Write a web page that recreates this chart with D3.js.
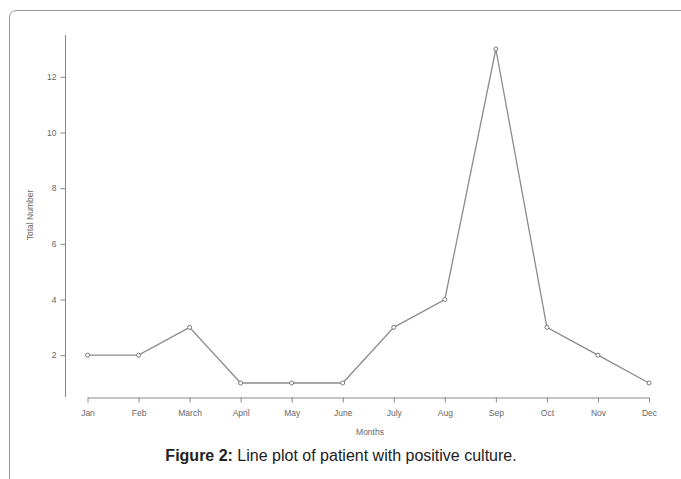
<!DOCTYPE html>
<html><head><meta charset="utf-8">
<script src="https://cdn.jsdelivr.net/npm/d3@7"></script>
<style>body{margin:0;background:#fff;}svg{display:block;}</style>
</head><body>
<svg id="c" width="681" height="479"></svg>
<script>
const months = ["Jan","Feb","March","April","May","June","July","Aug","Sep","Oct","Nov","Dec"];
const totals = [2,2,3,1,1,1,3,4,13,3,2,1];
const yTicks = [2,4,6,8,10,12];

const svg = d3.select("#c");
// card border
svg.append("path")
  .attr("d","M9.5,479 L9.5,18 Q9.5,10.5 17,10.5 L681,10.5")
  .attr("fill","none").attr("stroke","#999").attr("stroke-width",1);

const x = d3.scalePoint().domain(months).range([87.5,649]);
const y = d3.scaleLinear().domain([1,13]).range([383,49]);

const g = svg.append("g").attr("font-family","Liberation Sans, Arial, sans-serif");

// y axis
const ya = g.append("g").attr("transform","translate(65.5,0)")
  .call(d3.axisLeft(y).tickValues(yTicks).tickSize(5).tickSizeOuter(0).tickPadding(4).tickFormat(d3.format("d")));
ya.select(".domain").attr("d","M0,35V397");
ya.selectAll("line,.domain").attr("stroke","#888");
ya.selectAll("text").attr("fill","#666").attr("font-size",8.5);

// x axis
const xa = g.append("g").attr("transform","translate(0,397.5)")
  .call(d3.axisBottom(x).tickSize(5).tickSizeOuter(0).tickPadding(7));
xa.selectAll("line,.domain").attr("stroke","#888");
xa.selectAll("text").attr("fill","#666").attr("font-size",8.5);

// axis titles
g.append("text").attr("x",370).attr("y",435).attr("text-anchor","middle")
  .attr("font-size",8.5).attr("fill","#666").text("Months");
g.append("text").attr("transform","translate(33,215) rotate(-90)").attr("text-anchor","middle")
  .attr("font-size",8.5).attr("fill","#666").text("Total Number");

// line
const line = d3.line().x((d,i)=>x(months[i])).y(d=>y(d));
g.append("path").datum(totals).attr("d",line)
  .attr("fill","none").attr("stroke","#8c8c8c").attr("stroke-width",1.3);
g.selectAll("circle.pt").data(totals).join("circle").attr("class","pt")
  .attr("cx",(d,i)=>x(months[i])).attr("cy",d=>y(d)).attr("r",2)
  .attr("fill","#fff").attr("stroke","#777").attr("stroke-width",1);

// caption
const cap = svg.append("text").attr("x",341).attr("y",461).attr("text-anchor","middle")
  .attr("font-family","Liberation Sans, Arial, sans-serif").attr("font-size",16).attr("fill","#222");
cap.append("tspan").attr("font-weight","bold").text("Figure 2:");
cap.append("tspan").text(" Line plot of patient with positive culture.");
</script>
</body></html>
